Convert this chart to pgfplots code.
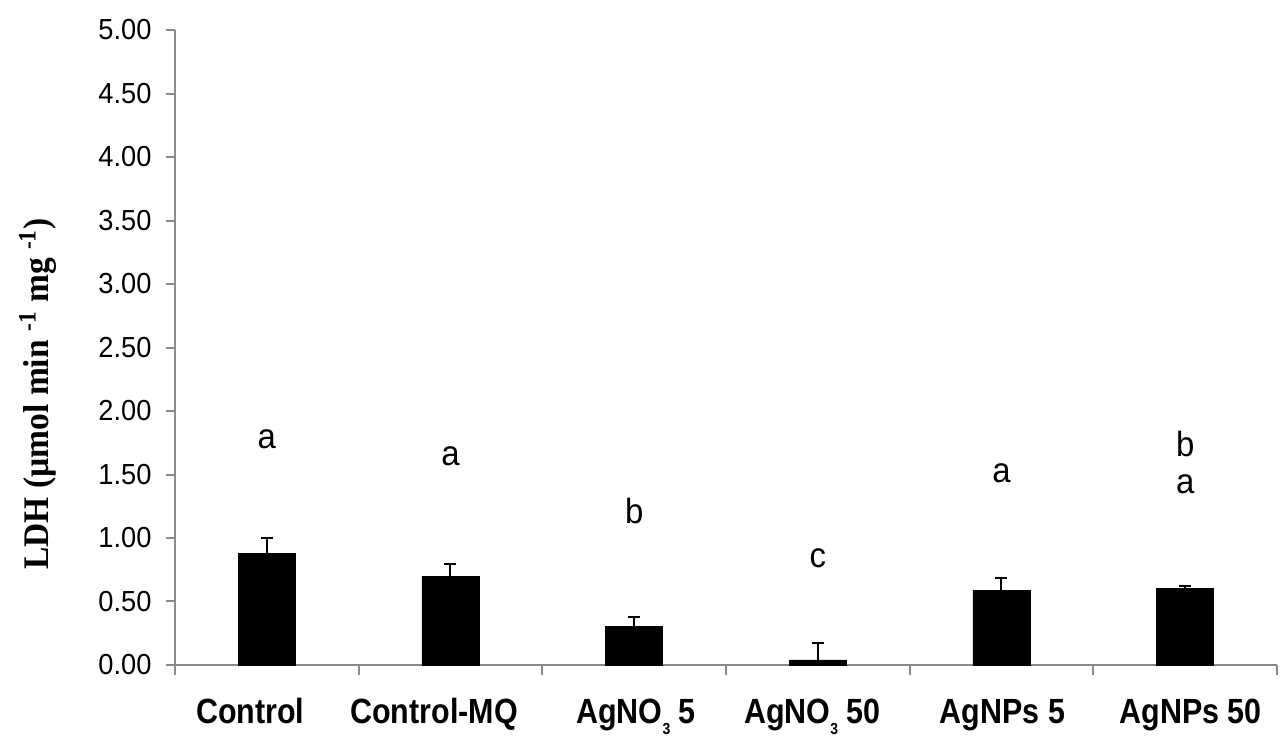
\documentclass[border=0pt]{standalone}
\usepackage{pgfplots}
\pgfplotsset{compat=1.18}
\usepackage{fontspec}
\setmainfont{Liberation Sans}[FakeStretch=0.94]
\newfontfamily\xlabfont{Liberation Sans}[FakeStretch=0.87]
\newfontfamily\labserif{Liberation Serif}[FakeStretch=0.93]
\definecolor{axgray}{HTML}{8A8A8A}
\pgfplotstableread{
x y err
0 0.88 0.12
1 0.70 0.095
2 0.305 0.073
3 0.04 0.13
4 0.587 0.096
5 0.60 0.023
}\bars
\pgfplotstableread{
x y lab
0 1.78 a
1 1.64 a
2 1.213 b
3 0.842 c
4 1.512 a
5 1.742 b
5 1.421 a
}\letters
\newcommand{\sub}[1]{\raisebox{-0.3em}{\fontsize{8}{8}\selectfont #1}}
\begin{document}
\begin{tikzpicture}
\path[use as bounding box] (-87.5pt,-37.5pt) rectangle (553.5pt,332.5pt);
\begin{axis}[
  at={(0,0)}, anchor=south west,
  scale only axis, width=551pt, height=317.5pt,
  xmin=-0.5, xmax=5.5, ymin=0, ymax=5,
  axis lines*=left,
  axis line style={axgray, line width=1pt, -},
  ytick={0,0.5,1,1.5,2,2.5,3,3.5,4,4.5,5},
  /pgf/number format/assume math mode=true,
  yticklabel={\pgfmathprintnumber[fixed, fixed zerofill, precision=2]{\tick}},
  yticklabel style={font=\fontsize{14.5}{16}\selectfont, xshift=-3.7pt},
  xtick={-0.09,0.91,2.01,2.97,4.005,5.03},
  xticklabels={Control, Control-MQ, AgNO\sub{3} 5, AgNO\sub{3} 50, AgNPs 5, AgNPs 50},
  xticklabel style={font=\xlabfont\bfseries\fontsize{17.5}{19}\selectfont, anchor=base, yshift=-25pt},
  major x tick style={draw=none},
  minor xtick={-0.5,0.5,1.5,2.5,3.5,4.5,5.5},
  tick align=outside,
  tick style={axgray, line width=1pt},
  major tick length=4.5pt, minor tick length=5pt,
  ylabel={LDH (µmol min \textsuperscript{-1} mg \textsuperscript{-1})},
  ylabel style={font=\labserif\bfseries\fontsize{18}{20}\selectfont, at={(axis description cs:-0.115,0.427)}, anchor=base},
  clip=false,
]
\addplot[ybar, bar width=28.5pt, fill=black, draw=black,
  error bars/.cd, y dir=plus, y explicit,
  error bar style={black, line width=1pt},
  error mark options={rotate=90, mark size=3pt, line width=1pt, black}]
  table[x=x, y=y, y error=err] {\bars};
\addplot[draw=none, mark=none, nodes near coords, point meta=explicit symbolic,
  every node near coord/.append style={anchor=center, font=\fontsize{17.5}{19}\selectfont, black}]
  table[x=x, y=y, meta=lab] {\letters};
\end{axis}
\end{tikzpicture}
\end{document}
